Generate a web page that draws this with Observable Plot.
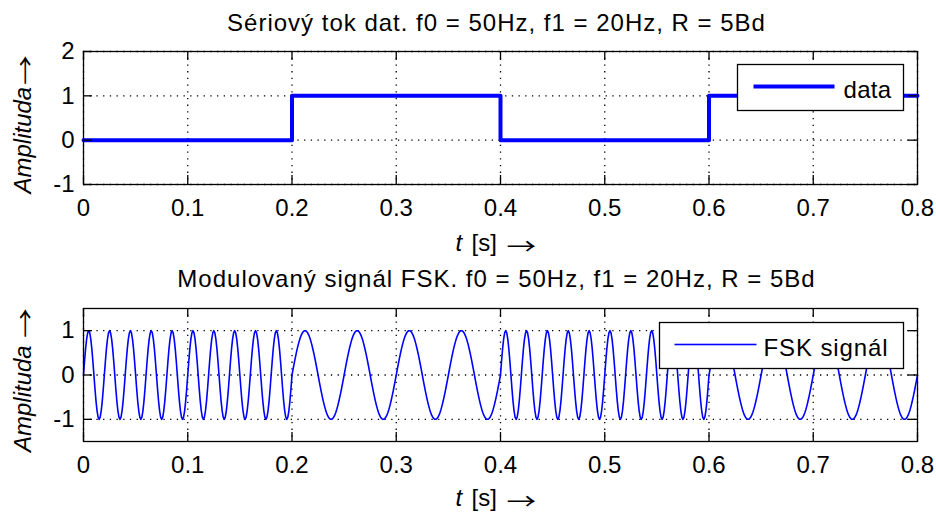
<!DOCTYPE html>
<html>
<head>
<meta charset="utf-8">
<script src="https://cdn.jsdelivr.net/npm/d3@7"></script>
<script src="https://cdn.jsdelivr.net/npm/@observablehq/plot@0.6"></script>
<style>
  html, body { margin: 0; padding: 0; background: #fff; }
  #chart svg { display: block; }
</style>
</head>
<body>
<div id="chart"></div>
<script>
// ---- data ----
const bits = [0, 1, 0, 1];          // transmitted bit sequence
const baudRate = 5;                  // R = 5 Bd
const bitFreqs = [50, 20];           // f0 (bit 0) = 50 Hz, f1 (bit 1) = 20 Hz
const sampleRate = 1000;             // samples per second of the drawn signal
const xTicks = [0, 0.1, 0.2, 0.3, 0.4, 0.5, 0.6, 0.7, 0.8];
const yTicksData = [-1, 0, 1, 2];
const yTicksFsk = [-1, 0, 1];
const titleData = "Sériový tok dat. f0 = 50Hz, f1 = 20Hz, R = 5Bd";
const titleFsk = "Modulovaný signál FSK. f0 = 50Hz, f1 = 20Hz, R = 5Bd";
const xLabelVar = "t";
const xLabelUnit = "[s]";
const yLabelText = "Amplituda";
const arrowGlyph = "→";
const legendData = "data";
const legendFsk = "FSK signál";

// ---- derived tables ----
const duration = bits.length / baudRate;
const dataSeries = bits.map((b, i) => ({t: i / baudRate, v: b}));
dataSeries.push({t: duration, v: bits[bits.length - 1]});

const fskSeries = d3.range(0, Math.round(duration * sampleRate) + 1).map(n => {
  const t = n / sampleRate;
  const k = Math.min(bits.length - 1, Math.floor(t * baudRate + 1e-9));
  const f = bitFreqs[bits[k]];
  return {t, v: Math.sin(2 * Math.PI * f * t)};
});

const FONT = "'Liberation Sans', Arial, Helvetica, sans-serif";
const ARROW_FONT = "'Noto Sans CJK SC', 'DejaVu Sans', sans-serif";
const BLUE = "#0000ff";
const W = 936, ML = 83, MR = 19, MT = 51;
const frameW = W - ML - MR;   // 834
const frameH = 133;

function stretchX(el, sx) {
  const x = +el.getAttribute("x") || 0, y = +el.getAttribute("y") || 0;
  const tr = el.getAttribute("transform") || "";
  el.removeAttribute("x"); el.removeAttribute("y");
  el.setAttribute("transform", `${tr} translate(${x},${y}) scale(${sx},1)`);
}

function panel({height, yDomain, yTicks, series, curve, lineWidth, title, titleDy, xlabDy, ylabStartDy, ylabArrowDy, legendText, legendSpacing, legend}) {
  const MB = height - MT - frameH;
  const grid = {stroke: "black", strokeOpacity: 1, strokeWidth: 1.3, strokeDasharray: "1.3,5.4"};
  const svg = Plot.plot({
    width: W,
    height,
    marginLeft: ML, marginRight: MR, marginTop: MT, marginBottom: MB,
    x: {domain: [0, duration]},
    y: {domain: yDomain},
    style: {fontFamily: FONT, fontSize: "24px", color: "black", background: "white", overflow: "visible"},
    marks: [
      Plot.gridX(xTicks, grid),
      Plot.gridY(yTicks, grid),
      Plot.line(series, {x: "t", y: "v", stroke: BLUE, strokeWidth: lineWidth, curve}),
      // inward ticks on all four sides
      Plot.ruleX(xTicks, {stroke: "black", strokeWidth: 1.3, insetTop: frameH - 9}),
      Plot.ruleX(xTicks, {stroke: "black", strokeWidth: 1.3, insetBottom: frameH - 9}),
      Plot.ruleY(yTicks, {stroke: "black", strokeWidth: 1.3, insetRight: frameW - 9}),
      Plot.ruleY(yTicks, {stroke: "black", strokeWidth: 1.3, insetLeft: frameW - 9}),
      Plot.frame({stroke: "black", strokeWidth: 1.3}),
      Plot.axisX(xTicks, {tickSize: 0, tickPadding: 14, label: null, tickFormat: d => String(d), fontSize: 24}),
      Plot.axisY(yTicks, {tickSize: 0, tickPadding: 9, label: null, tickFormat: d => String(d), fontSize: 24}),
      // title
      Plot.text([title], {text: d => d, frameAnchor: "top", lineAnchor: "bottom", dx: -4, dy: titleDy, fontSize: 24}),
      // x label
      Plot.text([xLabelVar], {text: d => d, frameAnchor: "bottom", textAnchor: "start", lineAnchor: "bottom", dx: -45, dy: xlabDy, fontSize: 24, fontStyle: "italic"}),
      Plot.text([xLabelUnit], {text: d => d, frameAnchor: "bottom", textAnchor: "start", lineAnchor: "bottom", dx: -29, dy: xlabDy, fontSize: 24}),
      Plot.text([arrowGlyph], {text: d => d, frameAnchor: "bottom", textAnchor: "start", lineAnchor: "bottom", dx: 6, dy: xlabDy + 3, fontSize: 22, fontFamily: ARROW_FONT}),
      // y label
      Plot.text([yLabelText], {text: d => d, frameAnchor: "left", textAnchor: "start", lineAnchor: "bottom", rotate: -90, dx: -53, dy: ylabStartDy, fontSize: 24, fontStyle: "italic"}),
      Plot.text([arrowGlyph], {text: d => d, frameAnchor: "left", textAnchor: "start", lineAnchor: "bottom", rotate: -90, dx: -50.5, dy: ylabArrowDy, fontSize: 22, fontFamily: ARROW_FONT}),
      // legend
      Plot.frame({fill: "white", stroke: "black", strokeWidth: 1.3, insetLeft: legend.boxL, insetRight: legend.boxR, insetTop: legend.boxT, insetBottom: legend.boxB}),
      Plot.frame({fill: BLUE, stroke: "none", insetLeft: legend.lineL, insetRight: legend.lineR, insetTop: legend.lineY - lineWidth / 2, insetBottom: frameH - legend.lineY - lineWidth / 2}),
      Plot.text([legendText], {text: d => d, frameAnchor: "top-left", textAnchor: "start", lineAnchor: "bottom", dx: legend.textX, dy: legend.textY, fontSize: 24})
    ]
  });
  const texts = d3.select(svg).selectAll("text");
  // MATLAB's rendering of the title / legend text is slightly more widely spaced
  texts.filter(function () { return this.textContent === title; }).attr("letter-spacing", "1px");
  texts.filter(function () { return this.textContent === legendText; }).attr("letter-spacing", legendSpacing);
  // long, thin arrows as in the reference
  texts.filter(function () { return this.textContent === arrowGlyph; }).each(function () { stretchX(this, 1.35); });
  return svg;
}

const topPanel = panel({
  height: 257, yDomain: [-1, 2], yTicks: yTicksData, series: dataSeries, curve: "step-after", lineWidth: 4,
  title: titleData, titleDy: -21, xlabDy: 66, ylabStartDy: 75.5, ylabArrowDy: -33,
  legendText: legendData, legendSpacing: "0.3px",
  legend: {boxL: 654, boxR: 14, boxT: 13, boxB: 74, lineL: 670, lineR: 83, lineY: 35, textX: 760, textY: 46}
});
const bottomPanel = panel({
  height: 258, yDomain: [-1.5, 1.5], yTicks: yTicksFsk, series: fskSeries, curve: "linear", lineWidth: 1.6,
  title: titleFsk, titleDy: -22, xlabDy: 64, ylabStartDy: 77, ylabArrowDy: -37,
  legendText: legendFsk, legendSpacing: "0.9px",
  legend: {boxL: 576, boxR: 14, boxT: 14, boxB: 73, lineL: 591, lineR: 161, lineY: 36, textX: 680, textY: 47}
});
document.getElementById("chart").append(topPanel, bottomPanel);
</script>
</body>
</html>
